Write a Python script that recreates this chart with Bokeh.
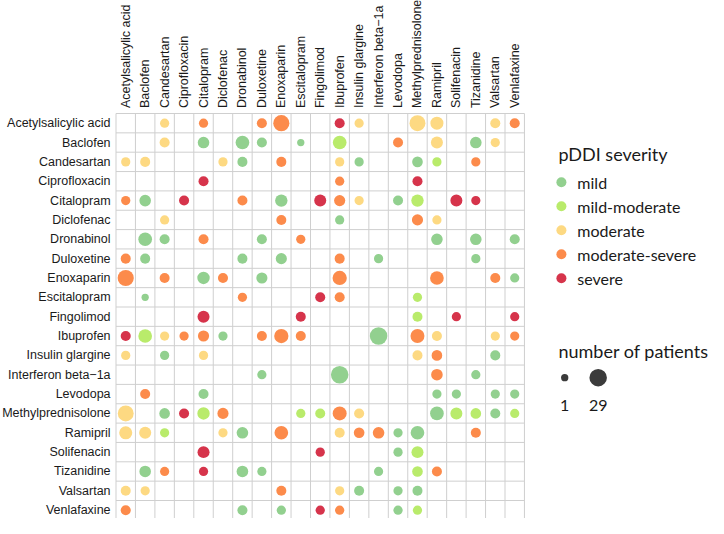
import numpy as np
from bokeh.plotting import figure
from bokeh.models import Range1d, ColumnDataSource
from bokeh.embed import file_html
from bokeh.resources import INLINE
from bokeh.core.properties import value

# ---------------- data ----------------
drugs = ["Acetylsalicylic acid", "Baclofen", "Candesartan", "Ciprofloxacin", "Citalopram",
         "Diclofenac", "Dronabinol", "Duloxetine", "Enoxaparin", "Escitalopram", "Fingolimod",
         "Ibuprofen", "Insulin glargine", "Interferon beta\u22121a", "Levodopa",
         "Methylprednisolone", "Ramipril", "Solifenacin", "Tizanidine", "Valsartan", "Venlafaxine"]

severity_levels = ["mild", "mild-moderate", "moderate", "moderate-severe", "severe"]
severity_colors = ["#92D08F", "#B9EB6B", "#FDD982", "#FC8B4B", "#D6344B"]

# pairs (upper triangle); matrix is symmetric
pair_a = [0, 0, 0, 0, 0, 0, 0, 0, 0, 0,
          1, 1, 1, 1, 1, 1, 1, 1, 1, 1,
          2, 2, 2, 2, 2, 2, 2, 2,
          3, 3, 3,
          4, 4, 4, 4, 4, 4, 4, 4, 4,
          5, 5, 5, 5,
          6, 6, 6, 6, 6,
          7, 7, 7, 7,
          8, 8, 8, 8,
          9, 9, 9,
          10, 10, 10,
          11, 11, 11, 11, 11,
          12, 12, 12,
          13, 13,
          14, 14, 14, 14,
          15, 15, 15, 15, 15,
          16]
pair_b = [2, 4, 7, 8, 11, 12, 15, 16, 19, 20,
          2, 4, 6, 7, 9, 11, 14, 16, 18, 19,
          5, 6, 8, 11, 12, 15, 16, 18,
          4, 11, 15,
          6, 8, 10, 11, 12, 14, 15, 17, 18,
          8, 11, 15, 16,
          7, 9, 16, 18, 20,
          8, 11, 13, 18,
          11, 16, 19, 20,
          10, 11, 15,
          15, 17, 20,
          13, 15, 16, 19, 20,
          15, 16, 19,
          16, 18,
          16, 17, 19, 20,
          16, 17, 18, 19, 20,
          18]
pair_severity = ["moderate", "moderate-severe", "moderate-severe", "moderate-severe", "severe",
                 "moderate", "moderate", "moderate", "moderate", "moderate-severe",
                 "moderate", "mild", "mild", "mild", "mild", "mild-moderate", "moderate-severe",
                 "moderate", "mild", "moderate",
                 "moderate", "mild", "moderate-severe", "moderate", "mild", "mild",
                 "mild-moderate", "moderate-severe",
                 "severe", "moderate-severe", "severe",
                 "moderate-severe", "mild", "severe", "moderate-severe", "moderate", "mild",
                 "mild-moderate", "severe", "severe",
                 "moderate-severe", "mild", "moderate-severe", "moderate",
                 "mild", "moderate-severe", "mild", "mild", "mild",
                 "mild", "moderate-severe", "mild", "mild",
                 "moderate-severe", "moderate-severe", "moderate-severe", "mild",
                 "severe", "moderate-severe", "mild-moderate",
                 "mild-moderate", "severe", "severe",
                 "mild", "moderate-severe", "moderate", "moderate", "moderate-severe",
                 "moderate", "moderate-severe", "mild",
                 "moderate-severe", "mild",
                 "mild", "mild", "mild", "mild",
                 "mild", "mild-moderate", "mild-moderate", "mild", "mild-moderate",
                 "moderate-severe"]
pair_patients = [2, 2, 3, 22, 3, 2, 21, 10, 3, 3,
                 3, 6, 12, 3, 1, 12, 3, 7, 6, 2,
                 2, 3, 3, 2, 2, 4, 2, 2,
                 3, 2, 3,
                 3, 8, 7, 5, 2, 3, 8, 7, 2,
                 3, 2, 5, 2,
                 3, 2, 6, 6, 3,
                 5, 3, 2, 2,
                 14, 12, 3, 2,
                 3, 3, 2,
                 3, 2, 2,
                 29, 13, 3, 2, 2,
                 3, 4, 3,
                 6, 2,
                 2, 2, 2, 2,
                 12, 7, 4, 3, 2,
                 3]
size_legend_values = [1, 29]

# ---------------- geometry / style ----------------
W, H = 708, 518
cell_x, cell_y = 19.45, 19.35
grid_left_px, grid_top_px = 115.5, 113.0
d_min, d_max = 7.3, 17.5


def diam(n):
    lo, hi = min(size_legend_values), max(size_legend_values)
    return d_min + (d_max - d_min) * np.sqrt((np.asarray(n, float) - lo) / (hi - lo))


n = len(drugs)
col_of = dict(zip(severity_levels, severity_colors))

xs, ys, sz, cl = [], [], [], []
for a, b, s, k in zip(pair_a, pair_b, pair_severity, pair_patients):
    for r, c in ((a, b), (b, a)):
        xs.append(c + 0.5)
        ys.append(r + 0.5)
        sz.append(float(diam(k)))
        cl.append(col_of[s])
src = ColumnDataSource(dict(x=xs, y=ys, size=sz, color=cl))

x_start = -grid_left_px / cell_x
x_end = x_start + W / cell_x
y_top = -grid_top_px / cell_y
y_bottom = y_top + H / cell_y

p = figure(width=W, height=H, x_range=Range1d(x_start, x_end), y_range=Range1d(y_bottom, y_top),
           output_backend="svg", toolbar_location=None, min_border=0,
           x_axis_location=None, y_axis_location=None)
p.grid.visible = False
p.outline_line_color = None
p.background_fill_color = "white"
p.border_fill_color = "white"

# grid lines
ks = list(range(n + 1))
p.segment(x0=ks + [0] * (n + 1), y0=[0] * (n + 1) + ks,
          x1=ks + [n] * (n + 1), y1=[n] * (n + 1) + ks,
          line_color="#cfcfcf", line_width=1)

# bubbles
p.scatter(x="x", y="y", size="size", fill_color="color", line_color=None, source=src)

label_font = value("Liberation Sans")
# row labels
p.text(x=[-0.28] * n, y=[i + 0.5 for i in range(n)], text=drugs, text_font=label_font,
       text_font_size="12.5px", text_align="right", text_baseline="middle", text_color="#1a1a1a")
# column labels
p.text(x=[i + 0.5 for i in range(n)], y=[-0.28] * n, text=drugs, text_font=label_font,
       text_font_size="12.5px", text_align="left", text_baseline="middle", text_color="#1a1a1a",
       angle=np.pi / 2)

# legend: severity
leg_font = value("Lato")
lx = n + 1.75
p.text(x=[lx], y=[2.1], text=["pDDI severity"], text_font=leg_font, text_font_size="18px",
       text_align="left", text_baseline="middle", text_color="#1a1a1a")
ly = [3.55 + 1.24 * i for i in range(len(severity_levels))]
p.scatter(x=[n + 1.9] * len(severity_levels), y=ly, size=10, fill_color=severity_colors, line_color=None)
p.text(x=[n + 2.72] * len(severity_levels), y=ly, text=severity_levels, text_font=leg_font,
       text_font_size="16px", text_align="left", text_baseline="middle", text_color="#1a1a1a")

# legend: size
p.text(x=[lx], y=[12.25], text=["number of patients"], text_font=leg_font, text_font_size="18px",
       text_align="left", text_baseline="middle", text_color="#1a1a1a")
sx = [n + 2.07, n + 3.79]
p.scatter(x=sx, y=[13.65, 13.65], size=[float(v) for v in diam(size_legend_values)],
          fill_color="#3b3b3b", line_color=None)
p.text(x=sx, y=[15.1, 15.1], text=[str(v) for v in size_legend_values], text_font=leg_font,
       text_font_size="16px", text_align="center", text_baseline="middle", text_color="#1a1a1a")

open("out.html", "w").write(file_html(p, INLINE))
